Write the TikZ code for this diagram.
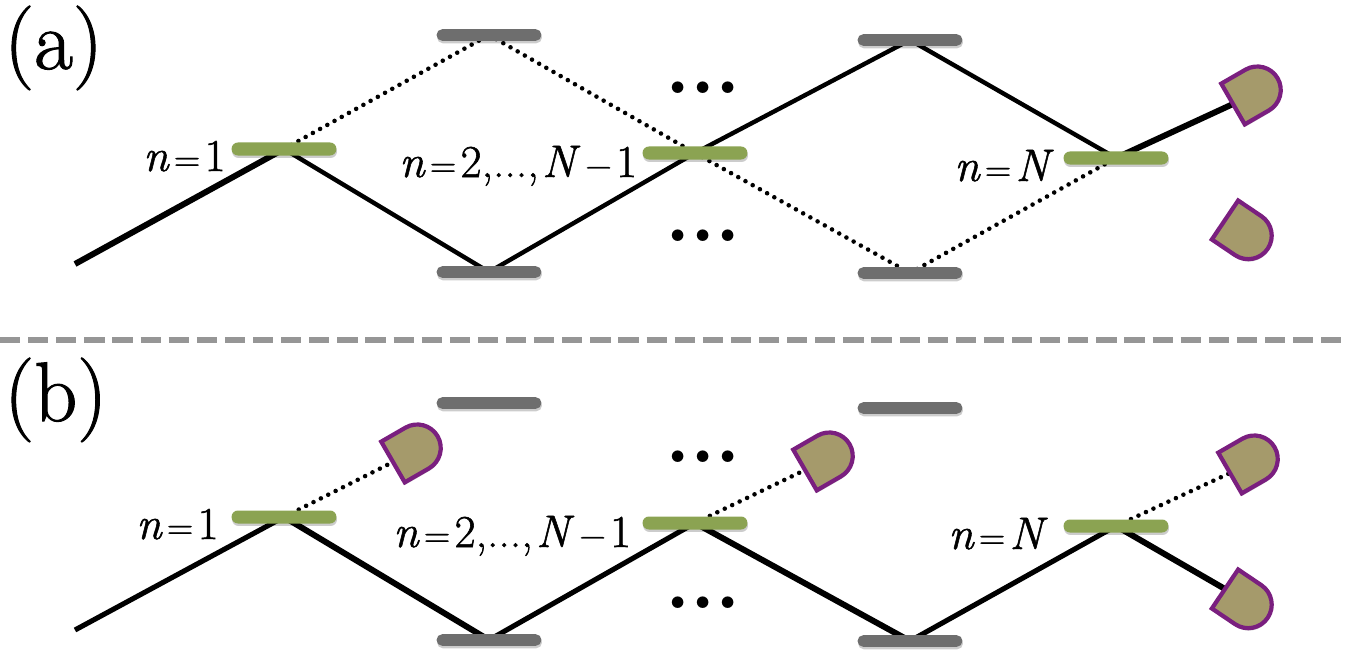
\documentclass[tikz,border=0pt]{standalone}
\usepackage{fontspec}
\newfontfamily\lmheavy{Latin Modern Roman}[FakeBold=1.2]
\usetikzlibrary{shadows}
\definecolor{lvgreen}{HTML}{8BA352}
\definecolor{lvgray}{HTML}{6E6E6E}
\definecolor{detfill}{HTML}{A59A6B}
\definecolor{detline}{HTML}{7A1F7F}
\definecolor{sepgray}{HTML}{969696}
\tikzset{
  x=0.02cm,y=-0.02cm,
  softshadow/.style={drop shadow={shadow xshift=0.3pt,shadow yshift=-1.4pt,opacity=.2,fill=black}},
  greenlevel/.style={fill=lvgreen,rounded corners=3.6pt,minimum width=59.7pt,minimum height=7.4pt,inner sep=0pt,softshadow},
  graylevel/.style={fill=lvgray,rounded corners=3.2pt,minimum width=59.7pt,minimum height=6.6pt,inner sep=0pt,softshadow},
  thickline/.style={line width=3.4pt,black},
  midline/.style={line width=2.5pt,black},
  bmidline/.style={line width=2.9pt,black},
  dotline/.style={line width=2.6pt,black,line cap=round,dash pattern=on 0pt off 4.7pt},
  panellabel/.style={font=\lmheavy\fontsize{48}{48}\selectfont,anchor=base west,inner sep=0pt},
  leveltext/.style={font=\lmheavy\fontsize{26}{26}\selectfont,anchor=base west,inner sep=0pt},
  dotstext/.style={font=\bfseries\fontsize{46}{46}\selectfont,anchor=base,inner sep=0pt},
  detector/.pic={
    \draw[line width=2.4pt,detline,fill=detfill,line join=miter,softshadow]
      (0,-23.5) -- (28,-23.5) arc (-90:90:23.5) -- (0,23.5) -- cycle;
  }
}
\newcommand{\eqtext}[1]{\textit{n}\kern2.5pt\scalebox{.8}{=}\kern2.5pt#1}
\newcommand{\longtext}{\eqtext{2,...,}\kern2pt\textit{N}\kern3pt\scalebox{.8}{−}\kern2.5pt1}
\begin{document}
\begin{tikzpicture}
\useasboundingbox (0,0) rectangle (1356,652);
% ---- coordinates of free ends and detectors
\coordinate (aS) at (75,264);
\coordinate (aD1) at (1233,104);
\coordinate (aD2) at (1225,220);
\coordinate (bS) at (75,630);
\coordinate (bD1) at (393,462);
\coordinate (bD2) at (805,470);
\coordinate (bD3) at (1230,473);
\coordinate (bD4) at (1225,589);
\coordinate (sepL) at (0,340);
\coordinate (sepR) at (1345,340);
% ---- level anchors (lines lie behind the bars)
\coordinate (a1c) at (284,149);
\coordinate (a2c) at (489,35);
\coordinate (a3c) at (489,272);
\coordinate (a4c) at (695,153);
\coordinate (a5c) at (910,40);
\coordinate (a6c) at (910,273);
\coordinate (a7c) at (1116,158);
\coordinate (b1c) at (284,517);
\coordinate (b3c) at (489,640);
\coordinate (b4c) at (695,523);
\coordinate (b6c) at (910,641);
\coordinate (b7c) at (1116,526);
% ---- connectors panel (a)
\draw[thickline] (aS) -- (a1c);
\draw[midline] (a1c) -- (a3c) -- (a4c) -- (a5c) -- (a7c);
\draw[thickline] (a7c) -- (aD1);
\draw[dotline] (a1c) -- (a2c);
\draw[dotline] (a2c) -- (a4c);
\draw[dotline] (a4c) -- (a6c);
\draw[dotline] (a6c) -- (a7c);
% ---- connectors panel (b)
\draw[bmidline] (bS) -- (b1c);
\draw[thickline] (b1c) -- (b3c);
\draw[bmidline] (b3c) -- (b4c);
\draw[thickline] (b4c) -- (b6c);
\draw[bmidline] (b6c) -- (b7c);
\draw[thickline] (b7c) -- (bD4);
\draw[dotline] (b1c) -- (bD1);
\draw[dotline] (b4c) -- (bD2);
\draw[dotline] (b7c) -- (bD3);
% ---- separator
\draw[sepgray,line width=2.9pt,dash pattern=on 11.5pt off 4.5pt] (sepL) -- (sepR);
% ---- levels (a)
\node[greenlevel] (a1) at (a1c) {};
\node[graylevel] (a2) at (a2c) {};
\node[graylevel] (a3) at (a3c) {};
\node[greenlevel] (a4) at (a4c) {};
\node[graylevel] (a5) at (a5c) {};
\node[graylevel] (a6) at (a6c) {};
\node[greenlevel] (a7) at (a7c) {};
% ---- levels (b)
\node[greenlevel] (b1) at (b1c) {};
\node[graylevel] (b2) at (489,403) {};
\node[graylevel] (b3) at (b3c) {};
\node[greenlevel] (b4) at (b4c) {};
\node[graylevel] (b5) at (910,408) {};
\node[graylevel] (b6) at (b6c) {};
\node[greenlevel] (b7) at (b7c) {};
% ---- detectors
\pic[rotate=30] at (aD1) {detector};
\pic[rotate=-34] at (aD2) {detector};
\pic[rotate=30] at (bD1) {detector};
\pic[rotate=30] at (bD2) {detector};
\pic[rotate=30] at (bD3) {detector};
\pic[rotate=-34] at (bD4) {detector};
% ---- labels
\node[panellabel] (la) at (4,69) {(a)};
\node[panellabel] (lb) at (4,421) {(b)};
\node[leveltext] (t1) at (143,171) {\eqtext{1}};
\node[leveltext] (t2) at (399,177) {\longtext};
\node[leveltext] (t3) at (954,181) {\eqtext{\textit{N}}};
\node[leveltext] (t4) at (136,539) {\eqtext{1}};
\node[leveltext] (t5) at (393,547) {\longtext};
\node[leveltext] (t6) at (948,549) {\eqtext{\textit{N}}};
\node[dotstext] (d1) at (703,94) {...};
\node[dotstext] (d2) at (703,241) {...};
\node[dotstext] (d3) at (703,462) {...};
\node[dotstext] (d4) at (703,608) {...};
\end{tikzpicture}
\end{document}
